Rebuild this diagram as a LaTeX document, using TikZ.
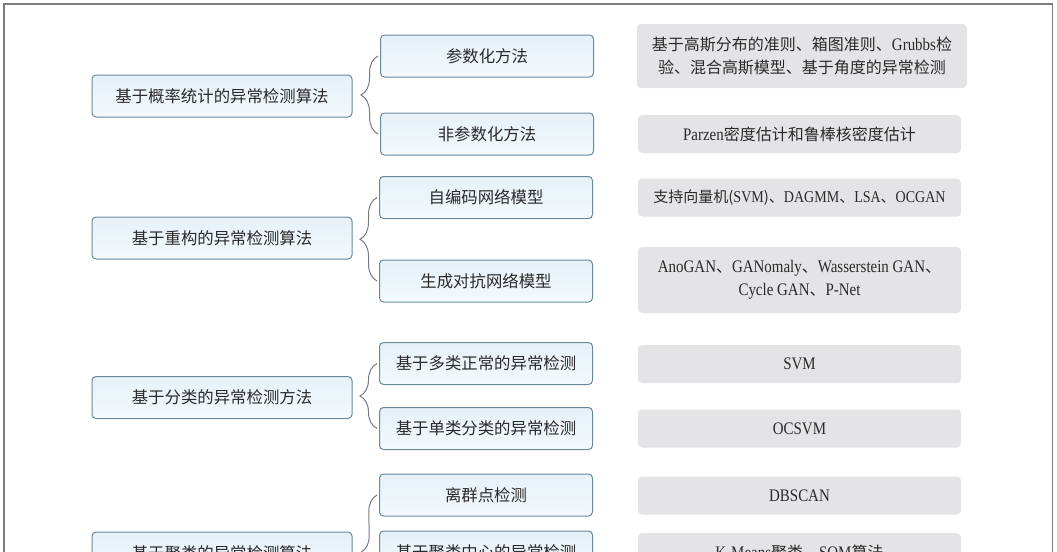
\documentclass[tikz,border=0pt]{standalone}
\usepackage{fontspec}
\setmainfont{Noto Sans CJK SC}
\newfontfamily\en[FakeStretch=0.85,Scale=1.1]{Liberation Serif}
\usetikzlibrary{decorations.pathreplacing}

\definecolor{boxline}{HTML}{6A8A9A}
\definecolor{boxtop}{HTML}{E6F1F8}
\definecolor{boxbot}{HTML}{F3F9FC}
\definecolor{exgray}{HTML}{E4E4E6}
\definecolor{bracegray}{HTML}{7A7A7A}
\definecolor{framegray}{HTML}{7C7C7C}
\definecolor{txt}{HTML}{2A2A2A}

\tikzset{
  cat/.style={draw=boxline, line width=0.5pt, top color=boxtop, bottom color=boxbot,
    rounded corners=2pt, minimum width=130pt, minimum height=21pt, text=txt,
    font=\fontsize{8.2pt}{11.5pt}\selectfont},
  sub/.style={cat, minimum width=106.5pt},
  ex/.style={fill=exgray, rounded corners=2pt, minimum width=161.5pt, minimum height=19pt,
    align=center, text=txt, font=\fontsize{8pt}{11.5pt}\selectfont},
  br/.style={decorate, decoration={brace, amplitude=8.5pt}, draw=bracegray, line width=0.5pt},
}

\begin{document}
\begin{tikzpicture}[x=0.5pt,y=-0.5pt]

\clip (0,0) rectangle (1057,552);
\draw[framegray, line width=0.8pt] (4,560) -- (4,4) -- (1052.5,4) -- (1052.5,560);

% first column
\node[cat] (prob) at (222,96) {基于概率统计的异常检测算法};
\node[cat] (recon) at (222,238) {基于重构的异常检测算法};
\node[cat] (clsf) at (222,397.5) {基于分类的异常检测方法};
\node[cat] (clus) at (222,553) {基于聚类的异常检测算法};

% second column
\node[sub] (param) at (487,56) {参数化方法};
\node[sub] (nonparam) at (487,134) {非参数化方法};
\node[sub] (ae) at (486,197.5) {自编码网络模型};
\node[sub] (gan) at (486,281) {生成对抗网络模型};
\node[sub] (multi) at (486,363.5) {基于多类正常的异常检测};
\node[sub] (single) at (486,428.5) {基于单类分类的异常检测};
\node[sub] (outlier) at (486,495) {离群点检测};
\node[sub] (center) at (486,552) {基于聚类中心的异常检测};

% third column
\node[ex, minimum width=165pt, minimum height=32pt] (exparam) at (802,56)
  {基于高斯分布的准则、箱图准则、{\en Grubbs}检\\验、混合高斯模型、基于角度的异常检测};
\node[ex] (exnonparam) at (799.5,134) {{\en Parzen}密度估计和鲁棒核密度估计};
\node[ex, font=\fontsize{7.5pt}{11.5pt}\selectfont] (exae) at (799.5,197.5)
  {支持向量机({\en SVM})、{\en DAGMM}、{\en LSA}、{\en OCGAN}};
\node[ex, minimum height=33pt] (exgan) at (799.5,280)
  {{\en AnoGAN}、{\en GANomaly}、{\en Wasserstein GAN}、\\{\en Cycle GAN}、{\en P-Net}};
\node[ex] (exmulti) at (799.5,364) {\en SVM};
\node[ex] (exsingle) at (799.5,428.5) {\en OCSVM};
\node[ex] (exoutlier) at (799.5,495.5) {\en DBSCAN};
\node[ex] (excenter) at (799.5,552) {{\en K-Means}聚类、{\en SOM}算法};

% braces
\coordinate (end) at (379,609);
\draw[br] ([xshift=-1pt]nonparam.west) -- ([xshift=-1pt]param.west);
\draw[br] ([xshift=-1pt]gan.west) -- ([xshift=-1pt]ae.west);
\draw[br] ([xshift=-1pt]single.west) -- ([xshift=-1pt]multi.west);
\draw[br] (end) -- ([xshift=-1pt]outlier.west);

\end{tikzpicture}
\end{document}
